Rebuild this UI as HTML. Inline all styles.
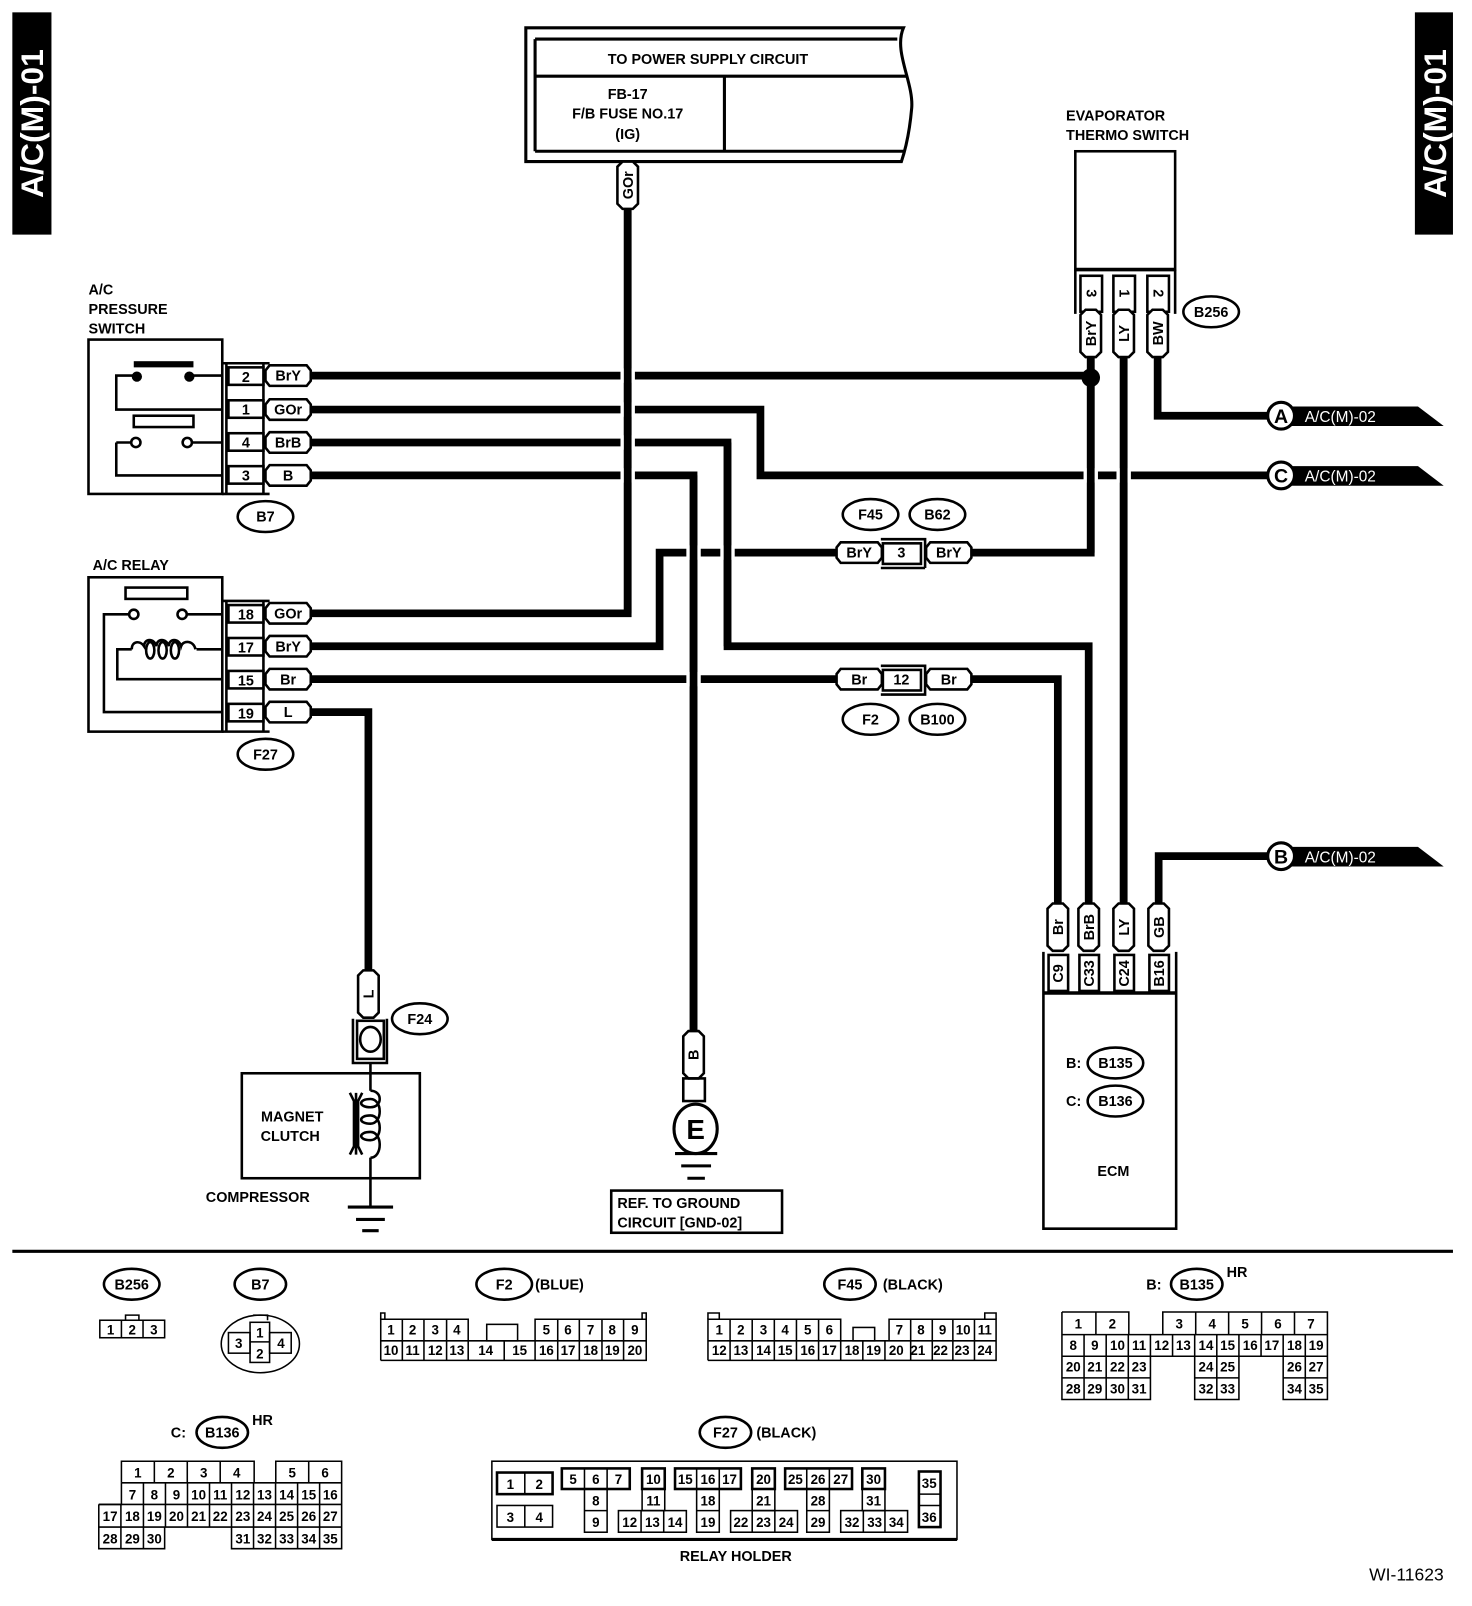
<!DOCTYPE html>
<html><head><meta charset="utf-8"><style>
html,body{margin:0;padding:0;background:#fff}
svg{display:block}
text{font-family:"Liberation Sans",sans-serif;font-weight:bold;fill:#000}
.t{font-size:14px}
.s{font-size:13px;font-weight:normal}
</style></head><body>
<svg width="1472" height="1606" viewBox="0 0 1430.5 1560.7" preserveAspectRatio="none" xmlns="http://www.w3.org/2000/svg">
<defs>
<path id="hp" d="M-18,-10 H18 L22,-5 V5 L18,10 H-18 L-22,5 V-5 Z" fill="#fff" stroke="#000" stroke-width="2.5"/>
<path id="vp" d="M-10,-18 V18 L-5,23 H5 L10,18 V-18 L5,-23 H-5 Z" fill="#fff" stroke="#000" stroke-width="2.5"/>
</defs>
<rect width="1430.5" height="1560.7" fill="#fff"/>

<rect x="12" y="12" width="38" height="216" fill="#000"/>
<text transform="translate(42,120) rotate(-90)" text-anchor="middle" style="font-size:31px;fill:#fff">A/C(M)-01</text>
<rect x="1375" y="12" width="37" height="216" fill="#000"/>
<text transform="translate(1405,120) rotate(-90)" text-anchor="middle" style="font-size:31px;fill:#fff">A/C(M)-01</text>

<g fill="none" stroke="#000" stroke-width="3">
<path d="M511,27 H878 C868,50 888,80 886,105 C884,128 880,145 876,157 H511 Z" fill="#fff"/>
<path d="M520,38 H872 M520,74 H881 M520,147 H879 M520,38 V147 M704,74 V147"/>
</g>
<text class="t" x="688" y="62" text-anchor="middle">TO POWER SUPPLY CIRCUIT</text>
<text class="t" x="610" y="96" text-anchor="middle">FB-17</text>
<text class="t" x="610" y="115" text-anchor="middle">F/B FUSE NO.17</text>
<text class="t" x="610" y="135" text-anchor="middle">(IG)</text>

<g fill="none" stroke="#000" stroke-width="7.5" stroke-linejoin="miter" stroke-linecap="butt">
<path d="M300,365 H1060"/>
<path d="M300,398 H739 V462 H1232"/>
<path d="M300,430 H707 V628 H1058 V880"/>
<path d="M300,462 H674 V1003"/>
<path d="M300,596 H610 V202"/>
<path d="M300,628 H641 V537 H815"/>
<path d="M943,537 H1060 V345"/>
<path d="M300,660 H815"/>
<path d="M943,660 H1028 V880"/>
<path d="M300,692 H358 V945"/>
<path d="M1092,345 V880"/>
<path d="M1125,345 V404 H1232"/>
<path d="M1126,880 V832 H1232"/>
</g>
<g fill="#fff">
<rect x="603" y="358" width="14" height="14"/>
<rect x="603" y="391" width="14" height="14"/>
<rect x="603" y="423" width="14" height="14"/>
<rect x="603" y="455" width="14" height="14"/>
<rect x="667" y="530" width="14" height="14"/>
<rect x="700" y="530" width="14" height="14"/>
<rect x="667" y="653" width="14" height="14"/>
<rect x="1053" y="455" width="14" height="14"/>
<rect x="1085" y="455" width="14" height="14"/>
</g>
<g stroke="#000" stroke-width="7.5">
<path d="M610,202 V596 M674,462 V1003 M707,430 V628 M1060,345 V537 M1092,345 V880"/>
</g>
<circle cx="1060" cy="367" r="9" fill="#000"/>

<g transform="translate(610,180)"><use href="#vp"/></g>
<text class="t" transform="translate(615,180) rotate(-90)" text-anchor="middle">GOr</text>

<text class="t" x="86" y="286">A/C</text>
<text class="t" x="86" y="305">PRESSURE</text>
<text class="t" x="86" y="324">SWITCH</text>
<g fill="none" stroke="#000" stroke-width="2.5">
<rect x="86" y="330" width="130" height="150"/>
<path d="M216,353 H262 M216,480 H262 M220,353 V480 M256,353 V480"/>
<path d="M216,365 H187 M130,365 H113 V398 H216"/>
<rect x="130" y="404" width="58" height="11"/>
<path d="M113,430 H127 M186,430 H216 M113,430 V462 H216"/>
<circle cx="132" cy="430" r="4.5"/><circle cx="182" cy="430" r="4.5"/>
</g>
<rect x="130" y="351" width="58" height="6" fill="#000"/>
<circle cx="133" cy="366" r="5" fill="#000"/><circle cx="184" cy="366" r="5" fill="#000"/>
<g fill="#fff" stroke="#000" stroke-width="2.5">
<rect x="222" y="357" width="34" height="17"/><rect x="222" y="389" width="34" height="17"/>
<rect x="222" y="421" width="34" height="17"/><rect x="222" y="453" width="34" height="17"/>
</g>
<g class="t" text-anchor="middle">
<text x="239" y="371">2</text><text x="239" y="403">1</text><text x="239" y="435">4</text><text x="239" y="467">3</text>
</g>
<use href="#hp" x="280" y="365"/><use href="#hp" x="280" y="398"/><use href="#hp" x="280" y="430"/><use href="#hp" x="280" y="462"/>
<g class="t" text-anchor="middle">
<text x="280" y="370">BrY</text><text x="280" y="403">GOr</text><text x="280" y="435">BrB</text><text x="280" y="467">B</text>
</g>
<ellipse cx="258" cy="502" rx="27" ry="15" fill="#fff" stroke="#000" stroke-width="2.5"/>
<text class="t" x="258" y="507" text-anchor="middle">B7</text>

<text class="t" x="90" y="554">A/C RELAY</text>
<g fill="none" stroke="#000" stroke-width="2.5">
<rect x="86" y="561" width="130" height="150"/>
<path d="M216,584 H262 M216,711 H262 M220,584 V711 M256,584 V711"/>
<rect x="122" y="571" width="60" height="11"/>
<circle cx="130" cy="597" r="4.5"/><circle cx="177" cy="597" r="4.5"/>
<path d="M125,597 H101 V692 H216 M182,597 H216"/>
<path d="M216,631 H191 M128,631 H114 V660 H216"/>
<path d="M128,631 C128,623 136,622 140,628 C140,620 150,620 152,628 C152,620 162,620 164,628 C164,620 174,620 176,628 C178,622 188,622 190,631"/>
<ellipse cx="146" cy="632" rx="4" ry="8"/><ellipse cx="158" cy="632" rx="4" ry="8"/><ellipse cx="170" cy="632" rx="4" ry="8"/>
</g>
<g fill="#fff" stroke="#000" stroke-width="2.5">
<rect x="222" y="588" width="34" height="17"/><rect x="222" y="620" width="34" height="17"/>
<rect x="222" y="652" width="34" height="17"/><rect x="222" y="684" width="34" height="17"/>
</g>
<g class="t" text-anchor="middle">
<text x="239" y="602">18</text><text x="239" y="634">17</text><text x="239" y="666">15</text><text x="239" y="698">19</text>
</g>
<use href="#hp" x="280" y="596"/><use href="#hp" x="280" y="628"/><use href="#hp" x="280" y="660"/><use href="#hp" x="280" y="692"/>
<g class="t" text-anchor="middle">
<text x="280" y="601">GOr</text><text x="280" y="633">BrY</text><text x="280" y="665">Br</text><text x="280" y="697">L</text>
</g>
<ellipse cx="258" cy="733" rx="27" ry="15" fill="#fff" stroke="#000" stroke-width="2.5"/>
<text class="t" x="258" y="738" text-anchor="middle">F27</text>

<g fill="#fff" stroke="#000" stroke-width="2.5">
<path d="M856,524 H899 V552 M856,552 H899 M899,524 V552" fill="none"/>
<rect x="858" y="528" width="37" height="20"/>
<path d="M856,647 H899 V675 H856" fill="none"/>
<rect x="858" y="651" width="37" height="20"/>
</g>
<use href="#hp" x="835" y="537"/><use href="#hp" x="922" y="537"/>
<use href="#hp" x="835" y="660"/><use href="#hp" x="922" y="660"/>
<g class="t" text-anchor="middle">
<text x="835" y="542">BrY</text><text x="876" y="542">3</text><text x="922" y="542">BrY</text>
<text x="835" y="665">Br</text><text x="876" y="665">12</text><text x="922" y="665">Br</text>
</g>
<g fill="#fff" stroke="#000" stroke-width="2.5">
<ellipse cx="846" cy="500" rx="27" ry="15"/><ellipse cx="911" cy="500" rx="27" ry="15"/>
<ellipse cx="846" cy="699" rx="27" ry="15"/><ellipse cx="911" cy="699" rx="27" ry="15"/>
</g>
<g class="t" text-anchor="middle">
<text x="846" y="505">F45</text><text x="911" y="505">B62</text><text x="846" y="704">F2</text><text x="911" y="704">B100</text>
</g>

<text class="t" x="1036" y="117">EVAPORATOR</text>
<text class="t" x="1036" y="136">THERMO SWITCH</text>
<g fill="none" stroke="#000" stroke-width="2.5">
<rect x="1045" y="147" width="97" height="115"/>
<path d="M1045,262 H1142" stroke-width="3.5"/>
<path d="M1045,262 V305 M1142,262 V305"/>
</g>
<g fill="#fff" stroke="#000" stroke-width="2.5">
<rect x="1050" y="268" width="21" height="35"/><rect x="1082" y="268" width="21" height="35"/><rect x="1115" y="268" width="21" height="35"/>
</g>
<g class="t" text-anchor="middle">
<text transform="translate(1056,285) rotate(90)">3</text>
<text transform="translate(1088,285) rotate(90)">1</text>
<text transform="translate(1121,285) rotate(90)">2</text>
</g>
<use href="#vp" x="1060" y="324"/><use href="#vp" x="1092" y="324"/><use href="#vp" x="1125" y="324"/>
<g class="t" text-anchor="middle">
<text transform="translate(1065,324) rotate(-90)">BrY</text>
<text transform="translate(1097,324) rotate(-90)">LY</text>
<text transform="translate(1130,324) rotate(-90)">BW</text>
</g>
<ellipse cx="1177" cy="303" rx="27" ry="15" fill="#fff" stroke="#000" stroke-width="2.5"/>
<text class="t" x="1177" y="308" text-anchor="middle">B256</text>

<g>
<path d="M1245,395 H1378 L1403,414 H1245 Z" fill="#000"/>
<circle cx="1245" cy="404" r="13" fill="#fff" stroke="#000" stroke-width="3"/>
<text x="1245" y="411" text-anchor="middle" style="font-size:19px">A</text>
<text x="1268" y="410" style="font-size:15px;font-weight:normal;fill:#fff">A/C(M)-02</text>
<path d="M1245,453 H1378 L1403,472 H1245 Z" fill="#000"/>
<circle cx="1245" cy="462" r="13" fill="#fff" stroke="#000" stroke-width="3"/>
<text x="1245" y="469" text-anchor="middle" style="font-size:19px">C</text>
<text x="1268" y="468" style="font-size:15px;font-weight:normal;fill:#fff">A/C(M)-02</text>
<path d="M1245,823 H1378 L1403,842 H1245 Z" fill="#000"/>
<circle cx="1245" cy="832" r="13" fill="#fff" stroke="#000" stroke-width="3"/>
<text x="1245" y="839" text-anchor="middle" style="font-size:19px">B</text>
<text x="1268" y="838" style="font-size:15px;font-weight:normal;fill:#fff">A/C(M)-02</text>
</g>

<use href="#vp" x="1028" y="901"/><use href="#vp" x="1058" y="901"/><use href="#vp" x="1092" y="901"/><use href="#vp" x="1126" y="901"/>
<g class="t" text-anchor="middle">
<text transform="translate(1033,901) rotate(-90)">Br</text>
<text transform="translate(1063,901) rotate(-90)">BrB</text>
<text transform="translate(1097,901) rotate(-90)">LY</text>
<text transform="translate(1131,901) rotate(-90)">GB</text>
</g>
<g fill="none" stroke="#000" stroke-width="2.5">
<path d="M1014,925 V1194 H1143 V925"/>
<path d="M1014,965 H1143" stroke-width="3.5"/>
</g>
<g fill="#fff" stroke="#000" stroke-width="2.5">
<rect x="1019" y="928" width="19" height="35"/><rect x="1049" y="928" width="19" height="35"/>
<rect x="1083" y="928" width="19" height="35"/><rect x="1117" y="928" width="19" height="35"/>
</g>
<g class="t" text-anchor="middle">
<text transform="translate(1033,946) rotate(-90)">C9</text>
<text transform="translate(1063,946) rotate(-90)">C33</text>
<text transform="translate(1097,946) rotate(-90)">C24</text>
<text transform="translate(1131,946) rotate(-90)">B16</text>
</g>
<text class="t" x="1036" y="1038">B:</text>
<ellipse cx="1084" cy="1033" rx="27" ry="15" fill="#fff" stroke="#000" stroke-width="2.5"/>
<text class="t" x="1084" y="1038" text-anchor="middle">B135</text>
<text class="t" x="1036" y="1075">C:</text>
<ellipse cx="1084" cy="1070" rx="27" ry="15" fill="#fff" stroke="#000" stroke-width="2.5"/>
<text class="t" x="1084" y="1075" text-anchor="middle">B136</text>
<text class="t" x="1082" y="1143" text-anchor="middle">ECM</text>

<use href="#vp" x="358" y="966"/>
<text class="t" transform="translate(363,966) rotate(-90)" text-anchor="middle">L</text>
<g fill="none" stroke="#000" stroke-width="2.5">
<path d="M343,990 V1033 H376 V990"/>
<rect x="347" y="992" width="26" height="37"/>
<ellipse cx="360" cy="1010" rx="10" ry="12"/>
<rect x="235" y="1043" width="173" height="102"/>
<path d="M360,1033 V1060 M360,1125 V1172"/>
<path d="M360,1060 C372,1060 372,1076 360,1076 C348,1076 348,1068 360,1068 C372,1068 372,1092 360,1092 C348,1092 348,1084 360,1084 C372,1084 372,1108 360,1108 C348,1108 348,1100 360,1100 C372,1100 372,1125 360,1125"/>
<path d="M340,1062 L344,1070 V1114 L340,1122 M352,1062 L348,1070 V1114 L352,1122 M346,1062 V1122"/>
</g>
<ellipse cx="408" cy="990" rx="27" ry="15" fill="#fff" stroke="#000" stroke-width="2.5"/>
<text class="t" x="408" y="995" text-anchor="middle">F24</text>
<text class="t" x="284" y="1090" text-anchor="middle">MAGNET</text>
<text class="t" x="282" y="1109" text-anchor="middle">CLUTCH</text>
<text class="t" x="200" y="1168">COMPRESSOR</text>
<g stroke="#000" stroke-width="3">
<path d="M338,1173 H382 M346,1185 H374 M352,1196 H368"/>
</g>

<use href="#vp" x="674" y="1025"/>
<text class="t" transform="translate(679,1025) rotate(-90)" text-anchor="middle">B</text>
<g fill="none" stroke="#000" stroke-width="2.5">
<rect x="664" y="1048" width="21" height="22"/>
<ellipse cx="676" cy="1097" rx="21" ry="24" stroke-width="3"/>
</g>
<text x="676" y="1107" text-anchor="middle" style="font-size:27px">E</text>
<g stroke="#000" stroke-width="3">
<path d="M656,1121 H697 M662,1133 H691 M668,1145 H685"/>
</g>
<rect x="594" y="1157" width="166" height="41" fill="none" stroke="#000" stroke-width="2.5"/>
<text class="t" x="600" y="1174">REF. TO GROUND</text>
<text class="t" x="600" y="1193">CIRCUIT [GND-02]</text>

<path d="M12,1216 H1412" stroke="#000" stroke-width="3"/>

<g fill="#fff" stroke="#000" stroke-width="2.5">
<ellipse cx="128" cy="1248" rx="27" ry="15"/><ellipse cx="253" cy="1248" rx="25" ry="15"/>
<ellipse cx="490" cy="1248" rx="27" ry="15"/><ellipse cx="826" cy="1248" rx="25" ry="15"/>
<ellipse cx="1163" cy="1248" rx="25" ry="15"/><ellipse cx="216" cy="1392" rx="25" ry="15"/>
<ellipse cx="705" cy="1392" rx="25" ry="15"/>
</g>
<g class="t" text-anchor="middle">
<text x="128" y="1253">B256</text><text x="253" y="1253">B7</text><text x="490" y="1253">F2</text>
<text x="826" y="1253">F45</text><text x="1163" y="1253">B135</text><text x="216" y="1397">B136</text>
<text x="705" y="1397">F27</text>
</g>
<text class="t" x="520" y="1253">(BLUE)</text>
<text class="t" x="858" y="1253">(BLACK)</text>
<text class="t" x="1114" y="1253">B:</text><text class="t" x="1192" y="1241">HR</text>
<text class="t" x="166" y="1397">C:</text><text class="t" x="245" y="1385">HR</text>
<text class="t" x="735" y="1397">(BLACK)</text>
<text class="t" x="715" y="1517" text-anchor="middle">RELAY HOLDER</text>
<text x="1403" y="1536" text-anchor="end" style="font-size:17px;font-weight:normal">WI-11623</text>

<g fill="none" stroke="#000" stroke-width="1.5">
<rect x="97" y="1283" width="63" height="17"/><path d="M118,1283 V1300 M139,1283 V1300 M122,1283 V1278 H135 V1283"/>
<ellipse cx="253" cy="1306" rx="38" ry="28"/>
<path d="M246,1278 H260 V1283"/>
<rect x="243" y="1285" width="19" height="39"/><path d="M243,1304 H262"/>
<rect x="222" y="1295" width="21" height="20"/><rect x="262" y="1295" width="21" height="20"/>
<path d="M370,1322 V1282 H455 V1303 M520,1303 V1282 H628 V1322 H370 M370,1303 H628"/>
<path d="M370,1282 V1276 H374 V1282 M624,1282 V1276 H628 V1282"/>
<rect x="473" y="1287" width="30" height="16"/>
<path d="M391,1282 V1322 M412,1282 V1322 M434,1282 V1322 M455,1303 V1322 M490,1303 V1322 M520,1303 V1322 M542,1282 V1322 M563,1282 V1322 M585,1282 V1322 M606,1282 V1322"/>
<path d="M688,1322 V1282 H817 V1303 M864,1303 V1282 H968 V1322 H688 M688,1303 H968"/>
<path d="M688,1282 V1276 H699 V1282 M957,1282 V1276 H968 V1282"/>
<rect x="829" y="1290" width="21" height="13"/>
<path d="M709.5,1282 V1322 M731,1282 V1322 M752.5,1282 V1322 M774,1282 V1322 M795.5,1282 V1322 M817,1303 V1322 M838.5,1303 V1322 M860,1303 V1322 M885,1282 V1322 M906,1282 V1322 M926,1282 V1322 M947,1282 V1322"/>
<path d="M1032,1275 H1097 V1297 M1130,1297 V1275 H1290 V1360 H1247 V1318 M1032,1275 V1360 H1118 V1318 M1161,1318 V1360 H1204 V1318 M1032,1297 H1290 M1032,1318 H1290 M1032,1339 H1118 M1161,1339 H1204 M1247,1339 H1290"/>
<path d="M1065,1275 V1297 M1162,1275 V1297 M1194,1275 V1297 M1226,1275 V1297 M1258,1275 V1297"/>
<path d="M1053.5,1297 V1360 M1075,1297 V1360 M1096.5,1297 V1360 M1118,1297 V1318 M1139.5,1297 V1318 M1161,1297 V1318 M1182.5,1297 V1360 M1204,1297 V1318 M1225.5,1297 V1318 M1247,1297 V1318 M1268.5,1297 V1360"/>
<path d="M118,1441 V1420 H247 V1441 M268,1441 V1420 H332 V1505 H225 V1484 M96,1462 V1505 H160 V1484 M96,1462 H332 M118,1441 H332 M96,1484 H332"/>
<path d="M150,1420 V1441 M182,1420 V1441 M214,1420 V1441 M300,1420 V1441 M96,1462 H118 V1441"/>
<path d="M139.4,1441 V1505 M160.8,1441 V1484 M182.2,1441 V1484 M203.6,1441 V1484 M225,1441 V1484 M246.4,1441 V1505 M267.8,1441 V1505 M289.2,1441 V1505 M310.6,1441 V1505 M117.5,1462 V1505"/>
<rect x="478" y="1420" width="452" height="76"/>
<path d="M478,1496 H930" stroke-width="3"/>
<rect x="483" y="1431" width="54" height="21" stroke-width="2.5"/><path d="M510,1431 V1452"/>
<rect x="483" y="1463" width="54" height="21"/><path d="M510,1463 V1484"/>
<rect x="546" y="1427" width="66" height="20" stroke-width="2.5"/><path d="M568,1427 V1447 M590,1427 V1447"/>
<rect x="568" y="1447" width="22" height="42"/><path d="M568,1468 H590"/>
<rect x="624" y="1427" width="22" height="20" stroke-width="2.5"/><rect x="624" y="1447" width="22" height="21"/>
<rect x="601" y="1468" width="66" height="21"/><path d="M623,1468 V1489 M645,1468 V1489"/>
<rect x="656" y="1427" width="64" height="20" stroke-width="2.5"/><path d="M677,1427 V1447 M699,1427 V1447"/>
<rect x="677" y="1447" width="22" height="42"/><path d="M677,1468 H699"/>
<rect x="731" y="1427" width="22" height="20" stroke-width="2.5"/><rect x="731" y="1447" width="22" height="21"/>
<rect x="710" y="1468" width="65" height="21"/><path d="M731,1468 V1489 M753,1468 V1489"/>
<rect x="763" y="1427" width="65" height="20" stroke-width="2.5"/><path d="M784,1427 V1447 M806,1427 V1447"/>
<rect x="784" y="1447" width="22" height="42"/><path d="M784,1468 H806"/>
<rect x="838" y="1427" width="22" height="20" stroke-width="2.5"/><rect x="838" y="1447" width="22" height="21"/>
<rect x="817" y="1468" width="65" height="21"/><path d="M839,1468 V1489 M860,1468 V1489"/>
<rect x="893" y="1430" width="21" height="54" stroke-width="2.5"/><path d="M893,1452 H914 M893,1463 H914"/>
</g>
<g class="s" text-anchor="middle" style="font-size:13px">
<text x="107.5" y="1297">1</text><text x="128.5" y="1297">2</text><text x="149.5" y="1297">3</text>
<text x="252.5" y="1300">1</text><text x="252.5" y="1320">2</text><text x="232" y="1310">3</text><text x="273" y="1310">4</text>
<text x="380" y="1297">1</text><text x="401" y="1297">2</text><text x="423" y="1297">3</text><text x="444" y="1297">4</text>
<text x="531" y="1297">5</text><text x="552" y="1297">6</text><text x="574" y="1297">7</text><text x="595" y="1297">8</text><text x="617" y="1297">9</text>
<text x="380" y="1317">10</text><text x="401" y="1317">11</text><text x="423" y="1317">12</text><text x="444" y="1317">13</text><text x="472" y="1317">14</text><text x="505" y="1317">15</text>
<text x="531" y="1317">16</text><text x="552" y="1317">17</text><text x="574" y="1317">18</text><text x="595" y="1317">19</text><text x="617" y="1317">20</text>
<text x="699" y="1297">1</text><text x="720" y="1297">2</text><text x="742" y="1297">3</text><text x="763" y="1297">4</text><text x="785" y="1297">5</text><text x="806" y="1297">6</text>
<text x="874" y="1297">7</text><text x="895" y="1297">8</text><text x="916" y="1297">9</text><text x="936" y="1297">10</text><text x="957" y="1297">11</text>
<text x="699" y="1317">12</text><text x="720" y="1317">13</text><text x="742" y="1317">14</text><text x="763" y="1317">15</text><text x="785" y="1317">16</text><text x="806" y="1317">17</text><text x="828" y="1317">18</text><text x="849" y="1317">19</text><text x="871" y="1317">20</text><text x="892" y="1317">21</text><text x="914" y="1317">22</text><text x="935" y="1317">23</text><text x="957" y="1317">24</text>
<text x="1048" y="1291">1</text><text x="1081" y="1291">2</text><text x="1146" y="1291">3</text><text x="1178" y="1291">4</text><text x="1210" y="1291">5</text><text x="1242" y="1291">6</text><text x="1274" y="1291">7</text>
<text x="1043" y="1312">8</text><text x="1064" y="1312">9</text><text x="1086" y="1312">10</text><text x="1107" y="1312">11</text><text x="1129" y="1312">12</text><text x="1150" y="1312">13</text><text x="1172" y="1312">14</text><text x="1193" y="1312">15</text><text x="1215" y="1312">16</text><text x="1236" y="1312">17</text><text x="1258" y="1312">18</text><text x="1279" y="1312">19</text>
<text x="1043" y="1333">20</text><text x="1064" y="1333">21</text><text x="1086" y="1333">22</text><text x="1107" y="1333">23</text><text x="1172" y="1333">24</text><text x="1193" y="1333">25</text><text x="1258" y="1333">26</text><text x="1279" y="1333">27</text>
<text x="1043" y="1354">28</text><text x="1064" y="1354">29</text><text x="1086" y="1354">30</text><text x="1107" y="1354">31</text><text x="1172" y="1354">32</text><text x="1193" y="1354">33</text><text x="1258" y="1354">34</text><text x="1279" y="1354">35</text>
<text x="134" y="1436">1</text><text x="166" y="1436">2</text><text x="198" y="1436">3</text><text x="230" y="1436">4</text><text x="284" y="1436">5</text><text x="316" y="1436">6</text>
<text x="128.7" y="1457">7</text><text x="150" y="1457">8</text><text x="171.5" y="1457">9</text><text x="193" y="1457">10</text><text x="214" y="1457">11</text><text x="236" y="1457">12</text><text x="257" y="1457">13</text><text x="278.5" y="1457">14</text><text x="300" y="1457">15</text><text x="321" y="1457">16</text>
<text x="107" y="1478">17</text><text x="128.7" y="1478">18</text><text x="150" y="1478">19</text><text x="171.5" y="1478">20</text><text x="193" y="1478">21</text><text x="214" y="1478">22</text><text x="236" y="1478">23</text><text x="257" y="1478">24</text><text x="278.5" y="1478">25</text><text x="300" y="1478">26</text><text x="321" y="1478">27</text>
<text x="107" y="1500">28</text><text x="128.7" y="1500">29</text><text x="150" y="1500">30</text><text x="236" y="1500">31</text><text x="257" y="1500">32</text><text x="278.5" y="1500">33</text><text x="300" y="1500">34</text><text x="321" y="1500">35</text>
<text x="496" y="1447">1</text><text x="524" y="1447">2</text><text x="496" y="1479">3</text><text x="524" y="1479">4</text>
<text x="557" y="1442">5</text><text x="579" y="1442">6</text><text x="601" y="1442">7</text><text x="579" y="1463">8</text><text x="579" y="1484">9</text>
<text x="635" y="1442">10</text><text x="635" y="1463">11</text><text x="612" y="1484">12</text><text x="634" y="1484">13</text><text x="656" y="1484">14</text>
<text x="666" y="1442">15</text><text x="688" y="1442">16</text><text x="709" y="1442">17</text><text x="688" y="1463">18</text><text x="688" y="1484">19</text>
<text x="742" y="1442">20</text><text x="742" y="1463">21</text><text x="720" y="1484">22</text><text x="742" y="1484">23</text><text x="764" y="1484">24</text>
<text x="773" y="1442">25</text><text x="795" y="1442">26</text><text x="817" y="1442">27</text><text x="795" y="1463">28</text><text x="795" y="1484">29</text>
<text x="849" y="1442">30</text><text x="849" y="1463">31</text><text x="828" y="1484">32</text><text x="850" y="1484">33</text><text x="871" y="1484">34</text>
<text x="903" y="1446">35</text><text x="903" y="1479">36</text>
</g>
</svg>
</body></html>
